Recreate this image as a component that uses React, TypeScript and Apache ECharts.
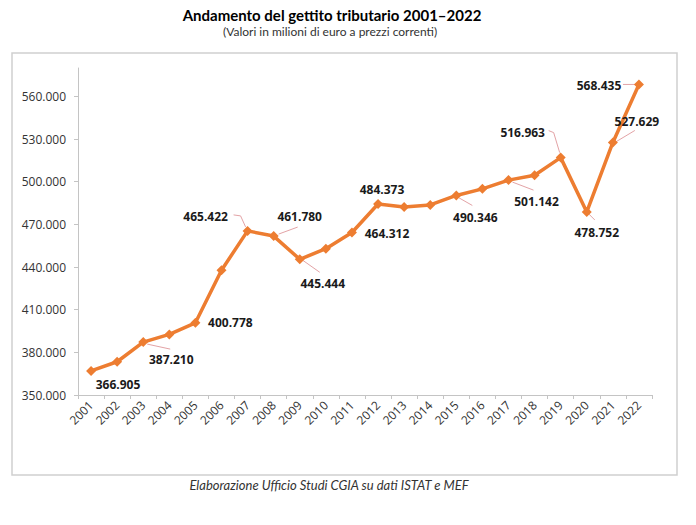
import React, { useEffect, useRef } from 'react';
import * as echarts from 'echarts';

const years = ['2001', '2002', '2003', '2004', '2005', '2006', '2007', '2008', '2009', '2010', '2011',
  '2012', '2013', '2014', '2015', '2016', '2017', '2018', '2019', '2020', '2021', '2022'];

const revenue = [366905, 373400, 387210, 392600, 400778, 437800, 465422, 461780, 445444, 452900, 464312,
  484373, 482300, 483700, 490346, 495000, 501142, 504600, 516963, 478752, 527629, 568435];

const labelledYears = ['2001', '2003', '2005', '2007', '2008', '2009', '2011', '2012', '2015', '2017', '2019', '2020', '2021', '2022'];

// label placement (style): label centre offset from the point, in px
const labelOffset: Record<string, [number, number]> = {
  '2001': [27, 14],
  '2003': [28, 17],
  '2005': [35, 0],
  '2007': [-42, -14],
  '2008': [26, -20],
  '2009': [23, 24],
  '2011': [35, 1],
  '2012': [4, -14],
  '2015': [19, 22],
  '2017': [28, 21],
  '2019': [-38, -25],
  '2020': [10, 21],
  '2021': [24, -21],
  '2022': [-40, 1],
};

// leader-line shapes (style): vertices relative to the data point, in px
const leaderShape: Record<string, [number, number][]> = {
  '2003': [[4, 2], [27, 7]],
  '2007': [[-14, -16], [-7, -15], [-2, -4]],
  '2008': [[5, -2], [24, -9]],
  '2009': [[3, 1], [20, 13]],
  '2015': [[2, 2], [16, 10]],
  '2017': [[4, 2], [25, 10]],
  '2019': [[-12, -27], [-7, -25], [-1, -5]],
  '2020': [[2, 2], [8, 8]],
  '2021': [[2, 0], [22, -12]],
  '2022': [[-16, 0], [-4, 0]],
};

const yMin = 350000;
const yMax = 580000;
const yStep = 30000;

const fmt = (v: number) => (v / 1000).toFixed(3);

const ORANGE = '#ED7D31';

export default function App() {
  const ref = useRef<HTMLDivElement>(null);

  useEffect(() => {
    if (!ref.current) return;
    const chart = echarts.init(ref.current, null, { renderer: 'svg' });

    const data = revenue.map((v, i) => {
      const y = years[i];
      if (!labelledYears.includes(y)) return { value: v };
      const [dx, dy] = labelOffset[y];
      return {
        value: v,
        label: {
          show: true,
          position: 'inside',
          offset: [dx, dy],
          formatter: () => fmt(v),
          fontFamily: 'Open Sans',
          fontWeight: 'bold',
          fontSize: 12,
          color: '#1a1a1a',
        },
      };
    });

    const staticGraphics: any[] = [
      {
        id: 'frame',
        type: 'rect',
        shape: { x: 12, y: 53, width: 665, height: 422 },
        style: { fill: 'none', stroke: '#d0d0d0', lineWidth: 1.5 },
        silent: true,
      },
      {
        id: 'title',
        type: 'text',
        x: 332,
        y: 15,
        style: {
          text: 'Andamento del gettito tributario 2001–2022',
          textAlign: 'center',
          textVerticalAlign: 'middle',
          fontFamily: 'Lato',
          fontWeight: 'bold',
          fontSize: 15,
          fill: '#000000',
        },
      },
      {
        id: 'subtitle',
        type: 'text',
        x: 330,
        y: 31,
        style: {
          text: '(Valori in milioni di euro a prezzi correnti)',
          textAlign: 'center',
          textVerticalAlign: 'middle',
          fontFamily: 'Lato',
          fontSize: 12,
          fill: '#333333',
        },
      },
      {
        id: 'footer',
        type: 'text',
        x: 329,
        y: 485,
        style: {
          text: 'Elaborazione Ufficio Studi CGIA su dati ISTAT e MEF',
          textAlign: 'center',
          textVerticalAlign: 'middle',
          fontFamily: 'Lato',
          fontStyle: 'italic',
          fontSize: 13,
          fill: '#333333',
        },
      },
    ];

    chart.setOption({
      animation: false,
      backgroundColor: '#ffffff',
      grid: { left: 78, right: 44, top: 68, bottom: 130, containLabel: false },
      xAxis: {
        type: 'category',
        data: years,
        boundaryGap: true,
        axisLine: { show: true, lineStyle: { color: '#c4c4c4', width: 1 } },
        axisTick: { show: true, length: 4, lineStyle: { color: '#c4c4c4' } },
        axisLabel: {
          interval: 0,
          rotate: 45,
          margin: 8,
          fontSize: 12,
          fontFamily: 'Open Sans',
          color: '#333333',
        },
        splitLine: { show: false },
      },
      yAxis: {
        type: 'value',
        min: yMin,
        max: yMax,
        interval: yStep,
        axisLine: { show: true, lineStyle: { color: '#c4c4c4', width: 1 } },
        axisTick: { show: true, length: 4, lineStyle: { color: '#c4c4c4' } },
        axisLabel: {
          formatter: (v: number) => fmt(v),
          showMaxLabel: false,
          margin: 12,
          fontSize: 12,
          fontFamily: 'Open Sans',
          color: '#333333',
        },
        splitLine: { show: false },
      },
      graphic: staticGraphics,
      series: [
        {
          type: 'line',
          data,
          symbol: 'diamond',
          symbolSize: 10,
          lineStyle: { color: ORANGE, width: 3.5 },
          itemStyle: { color: ORANGE },
          label: { show: false },
          emphasis: { disabled: true },
          z: 3,
        },
      ],
    });

    // leader lines anchored to the points through the chart's own scales
    const leaders = Object.keys(leaderShape).map((y) => {
      const i = years.indexOf(y);
      const p = chart.convertToPixel({ seriesIndex: 0 }, [i, revenue[i]]) as number[];
      return {
        id: 'leader-' + y,
        type: 'polyline',
        z: 1,
        shape: { points: leaderShape[y].map(([dx, dy]) => [p[0] + dx, p[1] + dy]) },
        style: { stroke: '#e3a3a6', lineWidth: 1, fill: 'none' },
        silent: true,
      };
    });
    chart.setOption({ graphic: [...staticGraphics, ...leaders] });

    return () => chart.dispose();
  }, []);

  return (
    <div
      ref={ref}
      style={{ position: 'fixed', left: 0, top: 0, width: 696, height: 525, background: '#ffffff' }}
    />
  );
}
